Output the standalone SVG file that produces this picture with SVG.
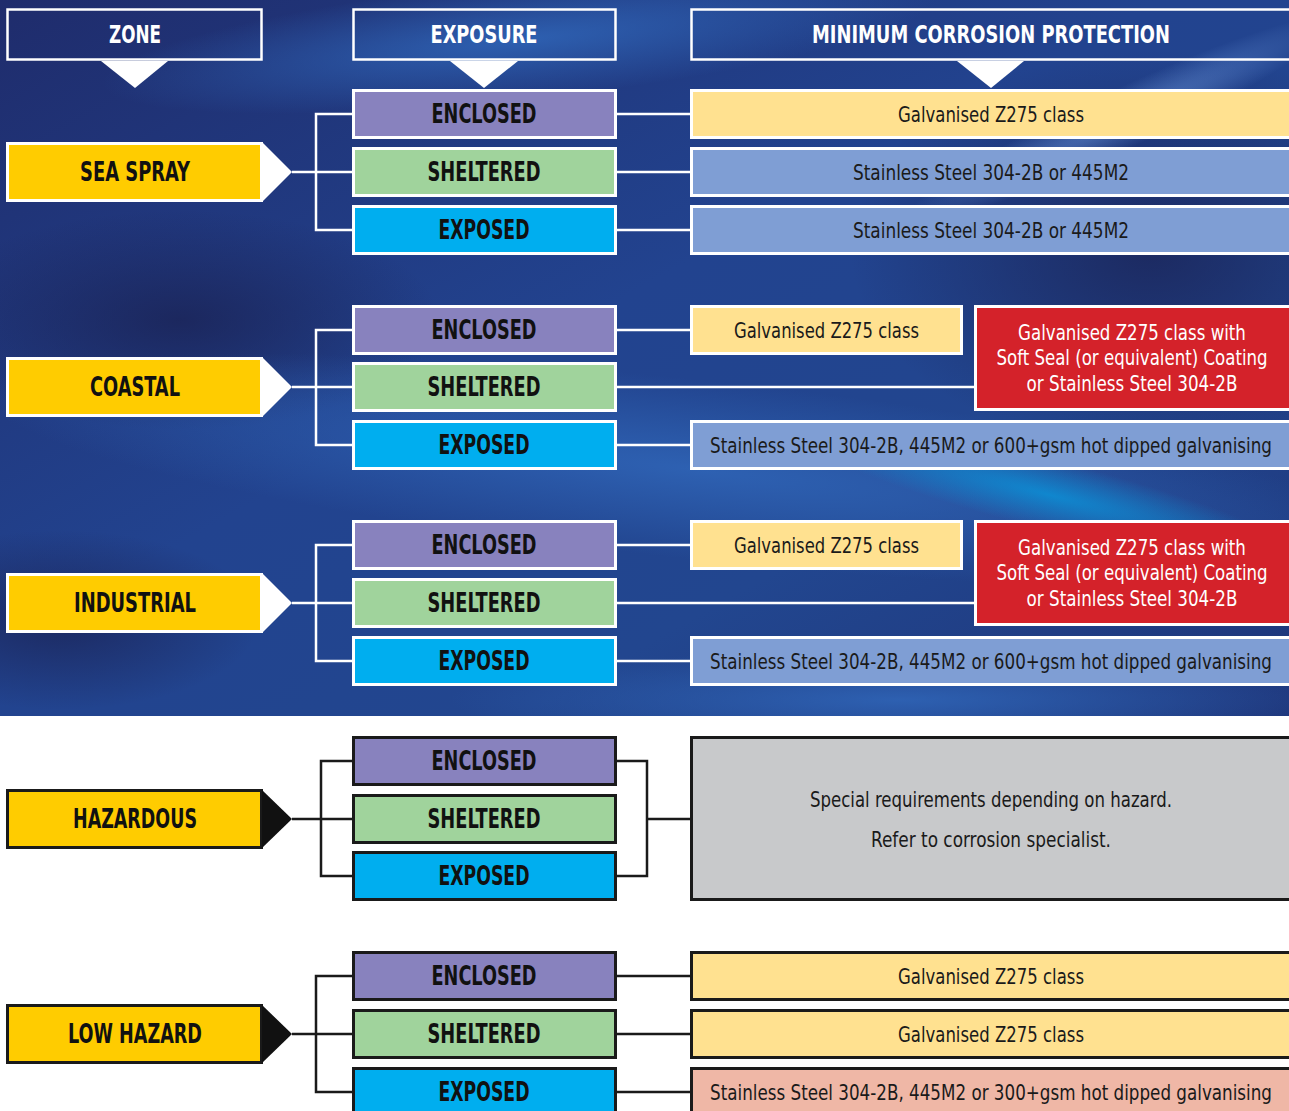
<svg xmlns="http://www.w3.org/2000/svg" width="1289" height="1111" viewBox="0 0 1289 1111">
<defs>
<linearGradient id="bgBase" x1="0" y1="0" x2="1" y2="1">
<stop offset="0" stop-color="#1F2C6C"/>
<stop offset="0.45" stop-color="#22438F"/>
<stop offset="0.7" stop-color="#22468F"/>
<stop offset="1" stop-color="#1E3579"/>
</linearGradient>
<radialGradient id="glow1" cx="0.5" cy="0.5" r="0.5">
<stop offset="0" stop-color="#2F64B6" stop-opacity="0.9"/>
<stop offset="1" stop-color="#2F64B6" stop-opacity="0"/>
</radialGradient>
<radialGradient id="glowCyan" cx="0.5" cy="0.5" r="0.5">
<stop offset="0" stop-color="#0A94DA" stop-opacity="0.8"/>
<stop offset="1" stop-color="#0A94DA" stop-opacity="0"/>
</radialGradient>
<radialGradient id="dark" cx="0.5" cy="0.5" r="0.5">
<stop offset="0" stop-color="#1A2152" stop-opacity="0.75"/>
<stop offset="1" stop-color="#1A2152" stop-opacity="0"/>
</radialGradient>
<radialGradient id="light" cx="0.5" cy="0.5" r="0.5">
<stop offset="0" stop-color="#6E9AE0" stop-opacity="0.55"/>
<stop offset="1" stop-color="#6E9AE0" stop-opacity="0"/>
</radialGradient>
<style>
.hdr{fill:none;stroke:#ffffff;stroke-width:2.5}
.ht{font-family:"Liberation Sans Narrow","DejaVu Sans Condensed","Liberation Sans",sans-serif;font-weight:bold;font-size:25px;fill:#ffffff;text-anchor:middle}
.bt{font-family:"Liberation Sans Narrow","DejaVu Sans Condensed","Liberation Sans",sans-serif;font-weight:bold;font-size:26px;fill:#111111;text-anchor:middle}
.rt{font-family:"Liberation Sans Narrow","DejaVu Sans Condensed","Liberation Sans",sans-serif;font-size:21px;fill:#1a1a1a;text-anchor:middle}
.wt{fill:#ffffff}
.ws{stroke:#ffffff;stroke-width:3}
.ks{stroke:#1a1a1a;stroke-width:3}
.ow{fill:none;stroke:#ffffff;stroke-width:3}
.ok{fill:none;stroke:#1a1a1a;stroke-width:3}
.zone{fill:#FFCC00}
.enc{fill:#8882BE}
.she{fill:#A0D39C}
.exp{fill:#00AEEF}
.gal{fill:#FFE190}
.ss{fill:#7F9ED4}
.red{fill:#D4222A}
.gray{fill:#C8C9CB}
.sal{fill:#EFB7A6}
.cw{fill:none;stroke:#ffffff;stroke-width:2.5}
.ck{fill:none;stroke:#1a1a1a;stroke-width:2.5}
</style>
</defs>

<g id="background">
<rect x="0" y="0" width="1289" height="716" fill="url(#bgBase)"/>
<ellipse cx="1150" cy="250" rx="300" ry="200" fill="url(#dark)"/>
<ellipse cx="180" cy="320" rx="260" ry="110" fill="url(#dark)"/>
<ellipse cx="60" cy="620" rx="200" ry="90" fill="url(#dark)"/>
<ellipse cx="700" cy="470" rx="720" ry="90" fill="url(#glow1)" transform="rotate(6 700 470)"/>
<ellipse cx="1050" cy="495" rx="260" ry="35" fill="url(#glowCyan)" transform="rotate(14 1050 495)"/>
<ellipse cx="520" cy="40" rx="420" ry="60" fill="url(#glow1)" transform="rotate(-6 520 40)"/>
<ellipse cx="1120" cy="120" rx="240" ry="30" fill="url(#light)" transform="rotate(-25 1120 120)"/>
<ellipse cx="900" cy="700" rx="450" ry="50" fill="url(#glow1)"/>
<rect x="0" y="716" width="1289" height="395" fill="#ffffff"/>
</g>

<g id="headers">
<g id="hdr-zone">
<rect class="hdr" x="7.5" y="9.5" width="254" height="50"/>
<polygon class="wt" points="101,61 168,61 135,88"/>
<text class="ht" x="135" y="43" textLength="52" lengthAdjust="spacingAndGlyphs">ZONE</text>
</g>
<g id="hdr-exposure">
<rect class="hdr" x="353.5" y="9.5" width="262" height="50"/>
<polygon class="wt" points="450,61 518,61 484,88"/>
<text class="ht" x="484" y="43" textLength="107" lengthAdjust="spacingAndGlyphs">EXPOSURE</text>
</g>
<g id="hdr-protection">
<path class="hdr" d="M1289 9.5H691.5V59.5H1289"/>
<polygon class="wt" points="957,61 1024,61 991,88"/>
<text class="ht" x="991" y="43" textLength="358" lengthAdjust="spacingAndGlyphs">MINIMUM CORROSION PROTECTION</text>
</g>
</g>

<g id="connectors">
<path class="cw" d="M292 172H352M352 114H316V230H352M617 114H690M617 172H690M617 230H690"/>
<path class="cw" d="M292 387H352M352 330H316V445H352M617 330H690M617 387H975M617 445H690"/>
<path class="cw" d="M292 603H352M352 545H316V661H352M617 545H690M617 603H975M617 661H690"/>
<path class="ck" d="M292 819H352M352 761H321V876H352M617 761H647V876H617M647 819H690"/>
<path class="ck" d="M292 1034H352M352 976H316V1092H352M617 976H690M617 1034H690M617 1092H690"/>
</g>

<!-- SEA SPRAY -->
<g id="zone-seaspray">
<rect class="zone ws" x="7.5" y="143.5" width="254" height="57"/>
<polygon class="wt" points="263,143 292,172 263,201"/>
<text class="bt" x="135" y="181" textLength="110" lengthAdjust="spacingAndGlyphs">SEA SPRAY</text>
</g>
<g id="ss-enclosed"><rect class="enc ws" x="353.5" y="90.5" width="262" height="47"/><text class="bt" x="484" y="123" textLength="105" lengthAdjust="spacingAndGlyphs">ENCLOSED</text></g>
<g id="ss-sheltered"><rect class="she ws" x="353.5" y="148.5" width="262" height="47"/><text class="bt" x="484" y="181" textLength="113" lengthAdjust="spacingAndGlyphs">SHELTERED</text></g>
<g id="ss-exposed"><rect class="exp ws" x="353.5" y="206.5" width="262" height="47"/><text class="bt" x="484" y="239" textLength="91" lengthAdjust="spacingAndGlyphs">EXPOSED</text></g>
<g id="ss-p1"><rect class="gal" x="691" y="90" width="598" height="48"/><path class="ow" d="M1289 90.5H691.5V137.5H1289"/><text class="rt" x="991" y="122" textLength="186" lengthAdjust="spacingAndGlyphs">Galvanised Z275 class</text></g>
<g id="ss-p2"><rect class="ss" x="691" y="148" width="598" height="48"/><path class="ow" d="M1289 148.5H691.5V195.5H1289"/><text class="rt" x="991" y="180" textLength="276" lengthAdjust="spacingAndGlyphs">Stainless Steel 304-2B or 445M2</text></g>
<g id="ss-p3"><rect class="ss" x="691" y="206" width="598" height="48"/><path class="ow" d="M1289 206.5H691.5V253.5H1289"/><text class="rt" x="991" y="238" textLength="276" lengthAdjust="spacingAndGlyphs">Stainless Steel 304-2B or 445M2</text></g>

<!-- COASTAL -->
<g id="zone-coastal">
<rect class="zone ws" x="7.5" y="358.5" width="254" height="57"/>
<polygon class="wt" points="263,358 292,387 263,416"/>
<text class="bt" x="135" y="396" textLength="90" lengthAdjust="spacingAndGlyphs">COASTAL</text>
</g>
<g id="co-enclosed"><rect class="enc ws" x="353.5" y="306.5" width="262" height="47"/><text class="bt" x="484" y="339" textLength="105" lengthAdjust="spacingAndGlyphs">ENCLOSED</text></g>
<g id="co-sheltered"><rect class="she ws" x="353.5" y="363.5" width="262" height="47"/><text class="bt" x="484" y="396" textLength="113" lengthAdjust="spacingAndGlyphs">SHELTERED</text></g>
<g id="co-exposed"><rect class="exp ws" x="353.5" y="421.5" width="262" height="47"/><text class="bt" x="484" y="454" textLength="91" lengthAdjust="spacingAndGlyphs">EXPOSED</text></g>
<g id="co-p1"><rect class="gal ws" x="691.5" y="306.5" width="270" height="47"/><text class="rt" x="826.5" y="338" textLength="185" lengthAdjust="spacingAndGlyphs">Galvanised Z275 class</text></g>
<g id="co-p2"><rect class="red" x="975" y="306" width="314" height="104"/><path class="ow" d="M1289 306.5H975.5V409.5H1289"/>
<text class="rt wt" transform="translate(1132 340) scale(0.85 1)" textLength="268" lengthAdjust="spacingAndGlyphs">Galvanised Z275 class with</text>
<text class="rt wt" transform="translate(1132 365) scale(0.85 1)" textLength="319" lengthAdjust="spacingAndGlyphs">Soft Seal (or equivalent) Coating</text>
<text class="rt wt" transform="translate(1132 391) scale(0.85 1)" textLength="248" lengthAdjust="spacingAndGlyphs">or Stainless Steel 304-2B</text></g>
<g id="co-p3"><rect class="ss" x="691" y="421" width="598" height="48"/><path class="ow" d="M1289 421.5H691.5V468.5H1289"/><text class="rt" transform="translate(991 453) scale(0.85 1)" textLength="661" lengthAdjust="spacingAndGlyphs">Stainless Steel 304-2B, 445M2 or 600+gsm hot dipped galvanising</text></g>

<!-- INDUSTRIAL -->
<g id="zone-industrial">
<rect class="zone ws" x="7.5" y="574.5" width="254" height="57"/>
<polygon class="wt" points="263,574 292,603 263,632"/>
<text class="bt" x="135" y="612" textLength="122" lengthAdjust="spacingAndGlyphs">INDUSTRIAL</text>
</g>
<g id="in-enclosed"><rect class="enc ws" x="353.5" y="521.5" width="262" height="47"/><text class="bt" x="484" y="554" textLength="105" lengthAdjust="spacingAndGlyphs">ENCLOSED</text></g>
<g id="in-sheltered"><rect class="she ws" x="353.5" y="579.5" width="262" height="47"/><text class="bt" x="484" y="612" textLength="113" lengthAdjust="spacingAndGlyphs">SHELTERED</text></g>
<g id="in-exposed"><rect class="exp ws" x="353.5" y="637.5" width="262" height="47"/><text class="bt" x="484" y="670" textLength="91" lengthAdjust="spacingAndGlyphs">EXPOSED</text></g>
<g id="in-p1"><rect class="gal ws" x="691.5" y="521.5" width="270" height="47"/><text class="rt" x="826.5" y="553" textLength="185" lengthAdjust="spacingAndGlyphs">Galvanised Z275 class</text></g>
<g id="in-p2"><rect class="red" x="975" y="521" width="314" height="104"/><path class="ow" d="M1289 521.5H975.5V624.5H1289"/>
<text class="rt wt" transform="translate(1132 555) scale(0.85 1)" textLength="268" lengthAdjust="spacingAndGlyphs">Galvanised Z275 class with</text>
<text class="rt wt" transform="translate(1132 580) scale(0.85 1)" textLength="319" lengthAdjust="spacingAndGlyphs">Soft Seal (or equivalent) Coating</text>
<text class="rt wt" transform="translate(1132 606) scale(0.85 1)" textLength="248" lengthAdjust="spacingAndGlyphs">or Stainless Steel 304-2B</text></g>
<g id="in-p3"><rect class="ss" x="691" y="637" width="598" height="48"/><path class="ow" d="M1289 637.5H691.5V684.5H1289"/><text class="rt" transform="translate(991 669) scale(0.85 1)" textLength="661" lengthAdjust="spacingAndGlyphs">Stainless Steel 304-2B, 445M2 or 600+gsm hot dipped galvanising</text></g>

<!-- HAZARDOUS -->
<g id="zone-hazardous">
<rect class="zone ks" x="7.5" y="790.5" width="254" height="57"/>
<polygon fill="#111111" points="262,790 292,819 262,848"/>
<text class="bt" x="135" y="828" textLength="124" lengthAdjust="spacingAndGlyphs">HAZARDOUS</text>
</g>
<g id="hz-enclosed"><rect class="enc ks" x="353.5" y="737.5" width="262" height="47"/><text class="bt" x="484" y="770" textLength="105" lengthAdjust="spacingAndGlyphs">ENCLOSED</text></g>
<g id="hz-sheltered"><rect class="she ks" x="353.5" y="795.5" width="262" height="47"/><text class="bt" x="484" y="828" textLength="113" lengthAdjust="spacingAndGlyphs">SHELTERED</text></g>
<g id="hz-exposed"><rect class="exp ks" x="353.5" y="852.5" width="262" height="47"/><text class="bt" x="484" y="885" textLength="91" lengthAdjust="spacingAndGlyphs">EXPOSED</text></g>
<g id="hz-p"><rect class="gray" x="691" y="737" width="598" height="163"/><path class="ok" d="M1289 737.5H691.5V899.5H1289"/>
<text class="rt" x="991" y="807" textLength="362" lengthAdjust="spacingAndGlyphs">Special requirements depending on hazard.</text>
<text class="rt" x="991" y="847" textLength="240" lengthAdjust="spacingAndGlyphs">Refer to corrosion specialist.</text></g>

<!-- LOW HAZARD -->
<g id="zone-lowhazard">
<rect class="zone ks" x="7.5" y="1005.5" width="254" height="57"/>
<polygon fill="#111111" points="262,1005 292,1034 262,1063"/>
<text class="bt" x="135" y="1043" textLength="134" lengthAdjust="spacingAndGlyphs">LOW HAZARD</text>
</g>
<g id="lh-enclosed"><rect class="enc ks" x="353.5" y="952.5" width="262" height="47"/><text class="bt" x="484" y="985" textLength="105" lengthAdjust="spacingAndGlyphs">ENCLOSED</text></g>
<g id="lh-sheltered"><rect class="she ks" x="353.5" y="1010.5" width="262" height="47"/><text class="bt" x="484" y="1043" textLength="113" lengthAdjust="spacingAndGlyphs">SHELTERED</text></g>
<g id="lh-exposed"><rect class="exp ks" x="353.5" y="1068.5" width="262" height="47"/><text class="bt" x="484" y="1101" textLength="91" lengthAdjust="spacingAndGlyphs">EXPOSED</text></g>
<g id="lh-p1"><rect class="gal" x="691" y="952" width="598" height="48"/><path class="ok" d="M1289 952.5H691.5V999.5H1289"/><text class="rt" x="991" y="984" textLength="186" lengthAdjust="spacingAndGlyphs">Galvanised Z275 class</text></g>
<g id="lh-p2"><rect class="gal" x="691" y="1010" width="598" height="48"/><path class="ok" d="M1289 1010.5H691.5V1057.5H1289"/><text class="rt" x="991" y="1042" textLength="186" lengthAdjust="spacingAndGlyphs">Galvanised Z275 class</text></g>
<g id="lh-p3"><rect class="sal" x="691" y="1068" width="598" height="43"/><path class="ok" d="M1289 1068.5H691.5V1111"/><text class="rt" transform="translate(991 1100) scale(0.85 1)" textLength="661" lengthAdjust="spacingAndGlyphs">Stainless Steel 304-2B, 445M2 or 300+gsm hot dipped galvanising</text></g>
</svg>
